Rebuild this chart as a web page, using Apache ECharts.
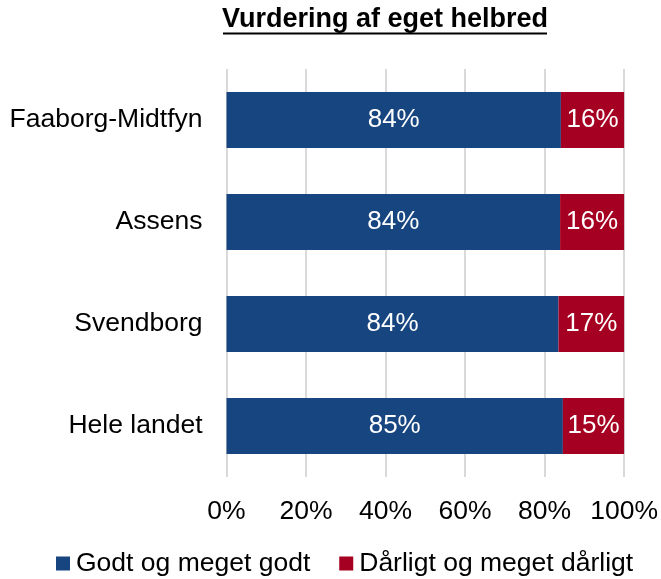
<!DOCTYPE html>
<html>
<head>
<meta charset="utf-8">
<script src="https://cdn.jsdelivr.net/npm/echarts@6/dist/echarts.min.js"></script>
<style>
  html, body { margin: 0; padding: 0; background: #fff; }
  #chart { width: 661px; height: 579px; }
</style>
</head>
<body>
<div id="chart"></div>
<script>
var categories = ['Faaborg-Midtfyn', 'Assens', 'Svendborg', 'Hele landet'];
var godt = [84.1, 83.9, 83.5, 84.6];
var daarligt = [15.9, 16.1, 16.5, 15.4];
var seriesNames = ['Godt og meget godt', 'Dårligt og meget dårligt'];

var font = 'Liberation Sans, Arial, sans-serif';
var chart = echarts.init(document.getElementById('chart'));

function pctLabel(p) {
    return Math.round(p.value) + '%';
}

var option = {
    animation: false,
    title: {
        text: 'Vurdering af eget helbred',
        left: 222,
        top: 6,
        padding: 0,
        textStyle: {
            fontFamily: font,
            fontSize: 27,
            fontWeight: 'bold',
            color: '#000'
        }
    },
    graphic: [
        {
            type: 'line',
            shape: { x1: 223, y1: 33.5, x2: 547, y2: 33.5 },
            style: { stroke: '#000', lineWidth: 2 }
        }
    ],
    legend: {
        data: seriesNames,
        left: 56,
        top: 550,
        padding: 0,
        icon: 'rect',
        itemWidth: 14,
        itemHeight: 14,
        itemGap: 29,
        textStyle: {
            fontFamily: font,
            fontSize: 26.5,
            color: '#000',
            padding: [0, 0, 0, 1]
        }
    },
    grid: {
        left: 226.5,
        right: 36.5,
        top: 69,
        bottom: 102
    },
    xAxis: {
        type: 'value',
        min: 0,
        max: 100,
        interval: 20,
        axisLine: { show: false },
        axisTick: { show: false },
        axisLabel: {
            formatter: '{value}%',
            fontFamily: font,
            fontSize: 26.5,
            color: '#000',
            margin: 21
        },
        splitLine: {
            lineStyle: { color: '#d9d9d9', width: 2 }
        }
    },
    yAxis: {
        type: 'category',
        data: categories,
        inverse: true,
        axisLine: { show: false },
        axisTick: { show: false },
        axisLabel: {
            fontFamily: font,
            fontSize: 26.5,
            color: '#000',
            margin: 24
        }
    },
    series: [
        {
            name: seriesNames[0],
            type: 'bar',
            stack: 'total',
            data: godt,
            barWidth: 56,
            itemStyle: { color: '#174580' },
            label: {
                show: true,
                position: 'inside',
                formatter: pctLabel,
                fontFamily: font,
                fontSize: 26,
                color: '#fff'
            }
        },
        {
            name: seriesNames[1],
            type: 'bar',
            stack: 'total',
            data: daarligt,
            barWidth: 56,
            itemStyle: { color: '#a50021' },
            label: {
                show: true,
                position: 'inside',
                formatter: pctLabel,
                fontFamily: font,
                fontSize: 26,
                color: '#fff'
            }
        }
    ]
};

chart.setOption(option);
</script>
</body>
</html>
